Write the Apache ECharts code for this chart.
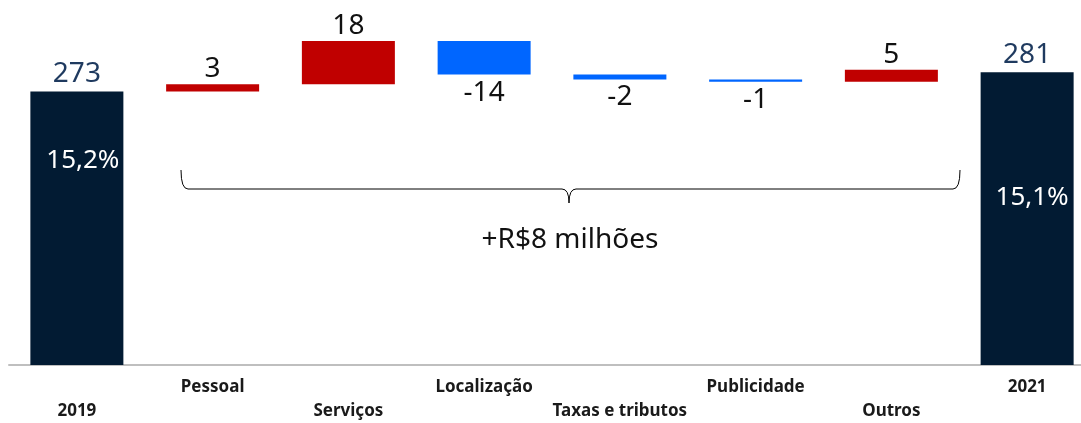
<!DOCTYPE html>
<html>
<head>
<meta charset="utf-8">
<script src="https://cdn.jsdelivr.net/npm/echarts@6/dist/echarts.min.js"></script>
<style>
  html, body { margin: 0; padding: 0; background: #fff; overflow: hidden; }
  #chart { width: 1095px; height: 423px; }
</style>
</head>
<body>
<div id="chart"></div>
<script>
// categorias e valores (R$ milhões)
const categories = ['2019', 'Pessoal', 'Serviços', 'Localização', 'Taxas e tributos', 'Publicidade', 'Outros', '2021'];
const totalStart = 273;
const totalEnd = 281;
const deltas = [3, 18, -14, -2, -1, 5];
const margins = ['15,2%', '15,1%'];
const braceText = '+R$8 milhões';

const FONT = '"Noto Sans", "Open Sans", sans-serif';
const DARK = '#021b33';
const RED = '#c00000';
const BLUE = '#0066ff';

// monta a cascata: base invisível + variação
const baseData = ['-'];
const deltaData = ['-'];
let acc = totalStart;
for (let i = 0; i < deltas.length; i++) {
  const d = deltas[i];
  const next = acc + d;
  baseData.push(Math.min(acc, next));
  deltaData.push({
    value: Math.abs(d),
    itemStyle: { color: d >= 0 ? RED : BLUE },
    label: {
      position: d >= 0 ? 'top' : 'bottom',
      distance: d >= 0 ? 1 : 4,
    },
  });
  acc = next;
}
baseData.push('-');
deltaData.push('-');

const totalData = categories.map((c, i) => {
  if (i === 0) return totalStart;
  if (i === categories.length - 1) return totalEnd;
  return '-';
});

const pctOffsets = [[6, 51], [5, 107]];
const pctData = categories.map((c, i) => {
  if (i === 0) return { value: totalStart, label: { formatter: margins[0], offset: pctOffsets[0] } };
  if (i === categories.length - 1) return { value: totalEnd, label: { formatter: margins[1], offset: pctOffsets[1] } };
  return '-';
});

// chave (brace) sob as variações
const braceStyle = { fill: 'none', stroke: '#000', lineWidth: 1 };
const brace = [
  { type: 'bezierCurve', shape: { x1: 181, y1: 170, x2: 188, y2: 189, cpx1: 181, cpy1: 189 }, style: braceStyle },
  { type: 'line', shape: { x1: 188, y1: 189, x2: 562, y2: 189 }, style: braceStyle },
  { type: 'bezierCurve', shape: { x1: 562, y1: 189, x2: 569, y2: 203, cpx1: 569, cpy1: 189 }, style: braceStyle },
  { type: 'bezierCurve', shape: { x1: 569, y1: 203, x2: 576, y2: 189, cpx1: 569, cpy1: 189 }, style: braceStyle },
  { type: 'line', shape: { x1: 576, y1: 189, x2: 953, y2: 189 }, style: braceStyle },
  { type: 'bezierCurve', shape: { x1: 953, y1: 189, x2: 960, y2: 170, cpx1: 960, cpy1: 189 }, style: braceStyle },
];

const myChart = echarts.init(document.getElementById('chart'));

const option = {
  animation: false,
  grid: { left: 9, right: 0, top: 5, bottom: 58 },
  xAxis: {
    type: 'category',
    data: categories,
    axisLine: { show: true, lineStyle: { color: '#bfbfbf', width: 2 } },
    axisTick: { show: false },
    axisLabel: {
      interval: 0,
      margin: 10,
      color: '#1a1a1a',
      fontFamily: FONT,
      fontWeight: 'bold',
      fontSize: 17,
      lineHeight: 24,
      formatter: function(value, idx) {
        return idx % 2 === 0 ? '\n' + value : value;
      },
    },
  },
  yAxis: {
    type: 'value',
    min: 159,
    max: 309,
    show: false,
    splitLine: { show: false },
  },
  series: [
    {
      name: 'base',
      type: 'bar',
      stack: 'wf',
      barWidth: 93,
      itemStyle: { color: 'transparent' },
      data: baseData,
      silent: true,
    },
    {
      name: 'variação',
      type: 'bar',
      stack: 'wf',
      barWidth: 93,
      data: deltaData,
      label: {
        show: true,
        fontFamily: FONT,
        fontSize: 28,
        color: '#111',
        formatter: function(p) {
          return String(deltas[p.dataIndex - 1]);
        },
      },
    },
    {
      name: 'total',
      type: 'bar',
      stack: 'wf',
      barWidth: 93,
      itemStyle: { color: DARK },
      data: totalData,
      label: {
        show: true,
        position: 'top',
        distance: 3,
        fontFamily: FONT,
        fontSize: 28,
        color: '#1f3a5f',
      },
    },
    {
      name: 'margem',
      type: 'bar',
      barWidth: 93,
      barGap: '-100%',
      itemStyle: { color: 'transparent' },
      data: pctData,
      silent: true,
      label: {
        show: true,
        position: 'insideTop',
        distance: 5,
        fontFamily: FONT,
        fontSize: 26,
        color: '#ffffff',
      },
    },
  ],
  graphic: brace.concat([
    {
      type: 'text',
      x: 570,
      y: 240,
      style: {
        text: braceText,
        fontFamily: FONT,
        fontSize: 28,
        fill: '#111',
        align: 'center',
        verticalAlign: 'middle',
      },
    },
  ]),
};

myChart.setOption(option);
window.addEventListener('resize', myChart.resize);
</script>
</body>
</html>
